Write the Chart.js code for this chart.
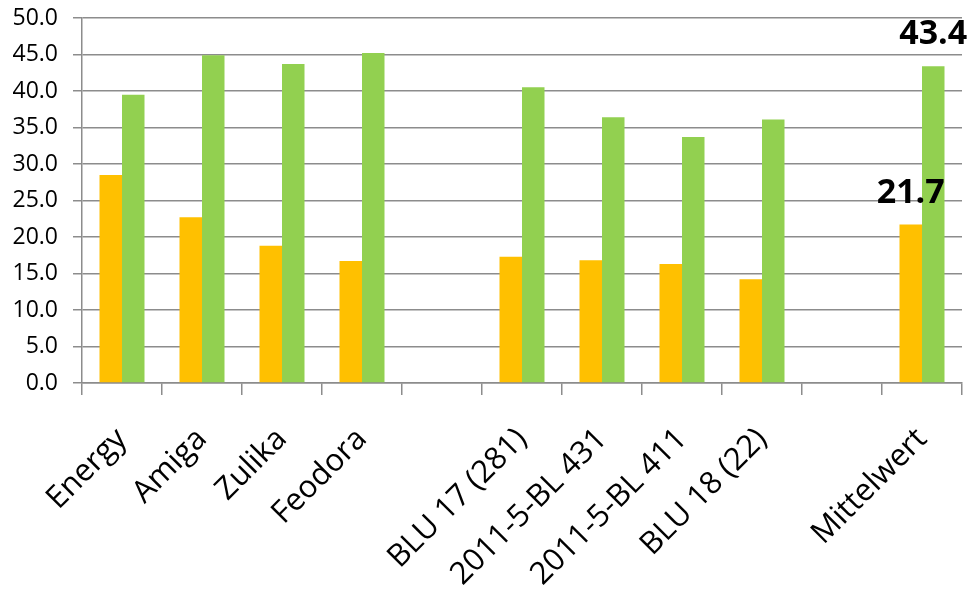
<html>
    <head>
        <script src="https://cdn.jsdelivr.net/npm/chart.js@4/dist/chart.umd.min.js"></script>
        <style>
            body { margin: 0; background: #fff; }
            .box { width: 975px; height: 591px; }
        </style>
    </head>
    <body>
        <div class="box"><canvas id="mainchart"></canvas></div>
        <script>
            // categories (the two empty ones are gaps in the original)
            const categories = ['Energy', 'Amiga', 'Zulika', 'Feodora', '', 'BLU 17 (281)', '2011-5-BL 431', '2011-5-BL 411', 'BLU 18 (22)', '', 'Mittelwert']
            const orangeValues = [28.5, 22.7, 18.8, 16.7, null, 17.3, 16.8, 16.3, 14.2, null, 21.7]
            const greenValues = [39.5, 44.9, 43.7, 45.2, null, 40.5, 36.4, 33.7, 36.1, null, 43.4]
            const yTicks = [0, 5, 10, 15, 20, 25, 30, 35, 40, 45, 50]
            const labelledCategory = 'Mittelwert'

            const gridColor = '#8c8c8c'

            // bold value labels, only above the Mittelwert bars
            const valueLabels = {
                id: 'valueLabels',
                afterDatasetsDraw(chart) {
                    const c = chart.ctx
                    const idx = categories.indexOf(labelledCategory)
                    c.save()
                    c.font = 'bold 34px "Open Sans"'
                    c.fillStyle = '#000'
                    c.textAlign = 'center'
                    c.textBaseline = 'alphabetic'
                    chart.data.datasets.forEach((ds, i) => {
                        const bar = chart.getDatasetMeta(i).data[idx]
                        c.fillText(ds.data[idx].toFixed(1), bar.x, bar.y - 22)
                    })
                    c.restore()
                }
            }

            const ctx = document.getElementById('mainchart').getContext('2d')
            const mainchart = new Chart(ctx, {
                type: 'bar',
                data: {
                    labels: categories,
                    datasets: [
                        { label: 'Serie 1', data: orangeValues, backgroundColor: '#FFC000', categoryPercentage: 0.5625, barPercentage: 1 },
                        { label: 'Serie 2', data: greenValues, backgroundColor: '#92D050', categoryPercentage: 0.5625, barPercentage: 1 }
                    ]
                },
                options: {
                    responsive: true,
                    maintainAspectRatio: false,
                    animation: false,
                    layout: { padding: { top: 18, right: 13, left: 0, bottom: 0 } },
                    plugins: {
                        legend: { display: false },
                        tooltip: { enabled: false }
                    },
                    scales: {
                        x: {
                            afterFit: (scale) => { scale.height = 208; scale.paddingLeft = 0; scale.paddingRight = 0 },
                            grid: { offset: true, drawOnChartArea: false, drawTicks: true, tickLength: 12, color: gridColor, lineWidth: 1.5 },
                            border: { color: gridColor, width: 1.5 },
                            ticks: {
                                autoSkip: false,
                                minRotation: 45,
                                maxRotation: 45,
                                padding: 26,
                                color: '#000',
                                font: { family: '"Open Sans"', size: 31 }
                            }
                        },
                        y: {
                            min: 0,
                            max: 50,
                            afterFit: (scale) => { scale.width = 82; scale.paddingTop = 0; scale.paddingBottom = 0 },
                            afterBuildTicks: (scale) => { scale.ticks = yTicks.map(v => ({ value: v })) },
                            grid: { color: gridColor, lineWidth: 1.5, tickLength: 9 },
                            border: { color: gridColor, width: 1.5 },
                            ticks: {
                                padding: 15,
                                color: '#000',
                                font: { family: '"Open Sans"', size: 23 },
                                callback: (v) => v.toFixed(1)
                            }
                        }
                    }
                },
                plugins: [valueLabels]
            })
        </script>
    </body>
</html>
